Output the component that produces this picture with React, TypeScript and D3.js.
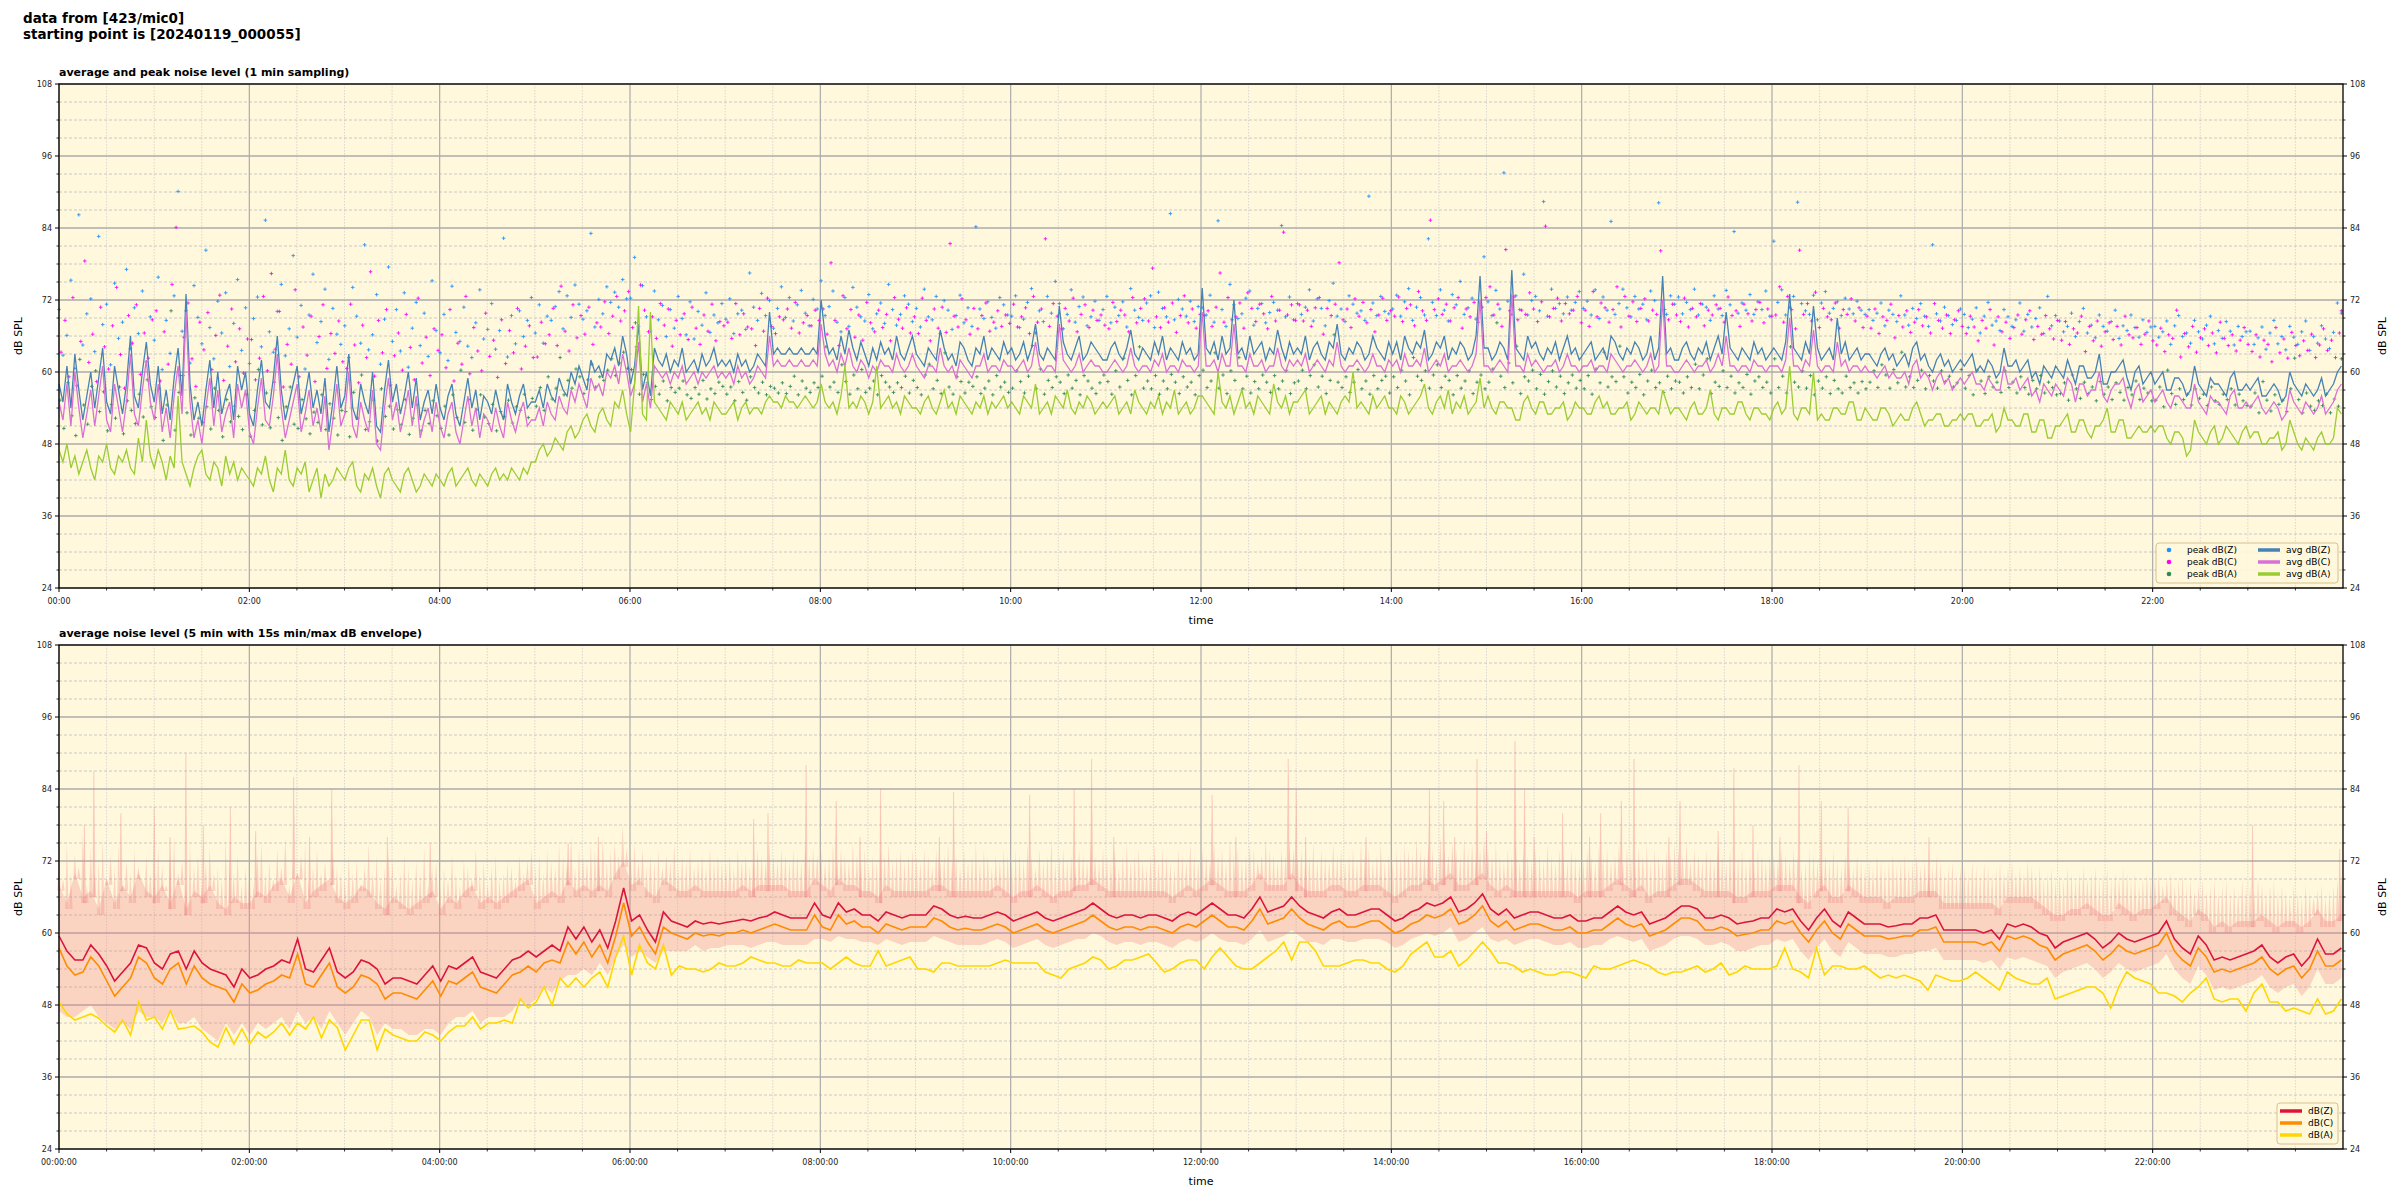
import React from 'react';
import * as d3 from 'd3';

// ---------- top panel data (2.5-minute resolution, 24 values per hour) ----------
const avgZ = [
58,55,61,54,63,57,52,56,60,54,59,64,55,53,61,57,53,58,66,56,54,60,65,58,
55,61,53,57,52,59,64,56,73,58,52,55,51,57,62,54,60,53,56,58,52,61,57,60,
53,51,57,62,55,54,59,66,57,52,55,58,61,53,56,60,54,57,53,59,50,55,61,54,
56,63,54,52,58,55,53,60,51,50,57,62,55,58,53,56,60,54,59,52,55,57,53,58,
54,52,56,58,53,51,55,59,54,57,52,56,55,53,57,54,52,58,55,53,56,58,54,55,
55,57,54,58,56,55,59,57,56,60,58,61,59,57,62,60,61,59,63,62,64,61,66,63,
58,61,68,57,60,56,64,62,61,63,60,62,61,64,60,61,62,60,63,61,62,64,61,62,
61,62,60,63,61,62,60,61,63,62,61,70,63,64,63,63,64,63,63,64,63,63,64,63,
72,66,63,64,62,66,63,67,64,62,65,63,61,64,62,65,63,64,62,66,63,62,64,66,
63,62,61,64,63,62,67,64,62,63,61,65,64,62,61,64,63,66,62,64,63,62,65,63,
64,62,63,65,62,64,68,63,62,64,63,62,71,65,63,62,64,66,62,63,65,64,63,62,
62,64,65,63,62,64,67,63,62,64,63,62,65,63,66,62,64,63,62,65,63,64,62,63,
74,64,63,65,62,66,63,64,72,63,64,62,66,63,64,65,62,64,63,67,64,62,65,63,
64,63,66,62,64,65,63,62,65,64,68,63,62,64,63,65,64,62,63,66,64,63,62,65,
63,65,62,66,64,63,65,64,67,62,63,65,64,66,62,64,63,65,64,62,63,66,76,64,
64,62,63,65,64,62,77,64,63,62,66,64,65,63,62,64,63,65,62,64,66,63,64,62,
63,64,65,62,63,64,62,66,65,63,62,64,63,65,64,62,63,66,62,64,76,63,64,62,
62,64,65,63,62,64,63,65,62,64,66,63,70,64,63,62,64,63,62,65,63,64,62,63,
64,63,62,65,73,64,63,62,65,63,71,64,62,63,64,62,69,63,65,62,63,64,62,63,
63,62,61,63,64,62,63,61,62,63,61,64,65,62,63,61,60,62,63,61,62,60,61,62,
61,62,63,60,61,60,62,61,59,60,64,61,61,62,60,61,62,59,60,58,61,60,59,61,
60,59,62,60,58,61,61,59,59,60,63,58,58,60,60,61,62,59,57,60,61,58,59,60,
58,59,60,57,57,59,59,58,56,57,61,58,57,56,59,58,58,57,56,59,60,57,57,58,
57,58,59,56,56,57,58,57,55,56,60,58,57,56,58,57,56,57,59,56,57,58,60,61];

const avgC = [
55,52,58,51,60,54,49,53,57,51,56,61,52,50,58,54,50,55,63,53,51,57,62,55,
52,58,50,54,49,56,61,53,70,55,49,52,48,54,59,51,57,50,53,55,49,58,54,57,
50,48,54,59,52,51,56,63,54,49,52,55,58,50,53,57,51,54,50,56,47,52,58,51,
53,60,51,49,55,52,50,57,48,47,54,59,52,55,50,53,57,51,56,49,52,54,50,55,
51,49,53,55,50,48,52,56,51,54,49,53,52,50,54,51,49,55,52,50,53,55,51,52,
52,54,51,55,53,52,56,54,53,57,55,58,56,54,59,57,58,56,60,59,61,58,63,60,
56,58,65,55,58,54,61,60,59,60,58,60,59,61,58,59,60,58,60,59,60,61,59,60,
59,60,58,61,59,60,58,59,61,60,59,66,61,62,61,61,62,61,61,62,61,61,62,61,
68,63,61,62,60,63,61,64,61,60,62,61,59,61,60,62,61,61,60,63,61,60,61,63,
61,60,59,61,61,60,64,61,60,61,59,62,61,60,59,61,61,63,60,61,61,60,62,61,
61,60,61,62,60,61,65,61,60,61,61,60,68,62,61,60,61,63,60,61,62,61,61,60,
60,61,62,61,60,61,64,61,60,61,61,60,62,61,63,60,61,61,60,62,61,61,60,61,
70,61,61,62,60,63,61,61,68,61,61,60,63,61,61,62,60,61,61,64,61,60,62,61,
62,61,63,60,61,62,61,60,62,61,65,61,60,61,61,62,61,60,61,63,61,61,60,62,
61,62,60,63,61,61,62,61,64,60,61,62,61,63,60,61,61,62,61,60,61,63,72,61,
61,60,61,62,61,60,73,61,61,60,63,61,62,61,60,61,61,62,60,61,63,61,61,60,
61,61,62,60,61,61,60,63,62,61,60,61,61,62,61,60,61,63,60,61,72,61,61,60,
60,61,62,61,60,61,61,62,60,61,63,61,66,61,61,60,61,61,60,62,61,61,60,61,
61,61,60,62,69,61,61,60,62,61,67,61,60,61,61,60,65,61,62,60,61,61,60,61,
60,60,59,60,61,59,60,59,59,60,58,61,62,59,60,59,57,59,60,58,59,57,58,59,
58,59,60,58,58,57,59,58,57,57,61,58,58,59,57,58,59,56,57,55,58,57,56,58,
57,56,59,58,55,58,58,56,57,57,60,56,55,57,58,58,59,56,54,57,58,55,56,57,
55,56,57,55,54,56,56,55,54,54,58,55,54,53,56,55,55,54,53,56,57,54,54,55,
54,55,56,54,53,54,55,54,52,53,57,55,54,53,55,54,53,54,56,53,54,55,57,58];

const avgA = [
47,45,48,44,46,43,45,47,44,42,46,45,48,44,43,46,45,47,44,43,49,45,52,46,
44,47,45,42,46,44,56,45,43,41,44,46,47,43,42,45,44,41,46,43,45,42,44,43,
42,41,44,43,46,42,40,44,43,47,42,41,44,43,45,40,42,44,39,43,41,42,44,43,
42,44,45,41,40,43,42,44,41,39,43,44,42,41,40,43,44,42,40,41,43,42,41,43,
42,41,43,44,41,42,43,44,42,41,43,42,41,43,44,42,43,42,44,43,42,44,43,45,
45,47,48,46,47,49,48,47,50,51,49,50,52,53,51,50,53,54,52,51,55,54,57,53,
50,58,71,53,52,70,55,54,53,52,55,54,53,55,52,53,54,55,53,54,52,55,54,53,
53,54,55,52,54,55,53,54,54,53,55,56,55,55,54,56,55,55,54,55,56,55,54,55,
58,55,54,55,53,56,61,54,55,54,56,55,53,55,61,54,55,56,54,55,53,56,55,54,
54,53,55,56,54,53,55,57,54,55,53,56,55,54,53,55,54,56,53,55,54,55,56,54,
55,54,53,56,55,54,58,53,54,55,53,56,55,54,57,54,53,55,54,56,55,53,54,55,
54,55,56,53,54,55,53,57,55,54,53,55,54,56,53,55,54,57,53,54,55,53,54,56,
56,55,54,53,60,55,54,56,53,55,57,54,55,53,56,55,54,53,58,55,54,56,53,55,
55,56,57,53,54,55,56,53,55,54,53,55,56,55,60,54,55,54,53,56,54,55,56,54,
54,53,56,55,53,54,55,56,58,54,53,55,56,54,57,53,55,54,56,53,54,55,59,54,
56,54,53,55,55,54,54,52,52,55,56,54,53,55,55,53,53,54,54,55,52,53,55,54,
54,53,53,55,56,54,55,53,53,54,54,55,52,53,55,54,53,54,54,53,57,55,53,54,
54,53,52,54,55,53,53,54,57,53,52,54,54,53,53,55,55,53,52,54,54,53,53,52,
54,55,53,54,61,53,52,54,54,53,60,52,53,52,52,54,54,53,53,55,55,52,52,54,
53,52,52,54,54,53,51,52,53,52,52,54,55,53,51,52,52,53,53,51,51,52,52,53,
52,53,53,51,51,52,52,53,50,51,54,52,52,51,51,53,53,50,50,52,52,49,49,51,
51,52,53,50,50,52,52,50,49,51,51,52,54,50,50,52,52,49,49,50,51,50,50,51,
50,51,51,49,48,50,50,49,46,47,52,50,49,48,50,51,48,49,51,50,49,48,50,51,
49,50,50,48,48,49,49,50,47,48,52,50,48,47,49,48,47,49,50,48,48,49,54,53];

const peakZ = [
70.4,62.8,66.1,75.3,60.6,86.2,64.5,69.7,72.2,63.4,82.6,67.9,71.3,61.2,74.8,65.6,68.3,77.1,63.9,70.7,66.4,73.5,61.7,69.2,
65.3,75.8,60.4,68.6,63.1,72.7,90.1,66.8,70.2,61.5,74.4,69.1,64.7,80.3,67.4,62.2,71.8,66.5,73.2,60.9,68.1,75.4,63.6,70.7,
61.4,68.9,72.5,64.2,85.3,66.7,63.3,70.1,74.6,62.7,67.2,79.4,65.8,71.1,60.5,69.5,76.3,64.9,68.4,73.8,62.1,70.6,66.3,64.6,
67.7,62.4,74.1,69.3,64.8,81.2,63.7,66.2,72.9,61.3,68.8,77.5,65.1,70.4,63.5,73.2,60.8,67.3,71.6,64.4,69.8,62.6,75.2,66.9,
63.2,69.6,61.9,74.3,66.6,65.1,70.8,64.3,62.4,68.2,73.7,65.5,67.1,71.4,63.8,66.9,82.3,62.5,69.4,64.7,70.2,65.9,68.6,72.4,
66.5,71.2,64.8,69.3,68.6,70.9,73.4,67.2,72.7,69.1,74.5,71.3,68.8,70.2,83.1,67.5,72.1,69.7,74.2,71.6,73.3,70.8,75.4,72.2,
72.3,79.1,67.6,74.4,69.2,66.8,73.5,68.7,71.1,65.9,70.4,67.3,72.6,68.9,66.2,71.7,65.5,70.1,67.8,73.2,66.6,69.5,68.2,71.4,
68.8,72.2,66.4,69.7,70.3,67.1,76.5,70.8,68.6,73.1,69.4,71.9,67.3,70.6,74.2,69.1,72.4,68.5,71.2,73.6,69.8,67.7,72.1,70.5,
75.2,69.4,70.9,73.5,68.3,66.7,72.4,67.6,74.1,70.8,69.2,68.5,72.9,67.2,69.7,71.5,68.1,74.6,70.4,67.8,69.6,72.7,71.3,68.4,
70.6,67.5,73.8,69.2,68.7,72.6,66.4,71.9,70.3,67.1,69.4,72.8,68.2,70.7,67.6,84.2,70.5,68.9,71.7,69.1,67.3,72.4,71.2,69.5,
69.3,72.7,67.4,68.8,71.6,73.9,66.5,70.2,68.4,72.6,69.8,75.1,71.4,67.2,69.6,73.7,68.3,70.9,72.5,67.7,69.2,71.8,68.6,70.4,
72.6,68.2,70.8,69.4,71.7,67.5,73.9,70.3,69.1,68.6,71.5,72.7,67.4,73.3,70.6,69.2,86.4,68.7,72.1,70.5,69.3,71.8,68.4,70.9,
70.7,69.5,72.8,68.3,85.2,70.4,67.6,74.6,71.2,68.9,69.7,72.3,73.5,67.8,70.6,71.4,68.2,69.9,71.6,70.3,84.4,69.2,72.5,68.7,
71.4,69.6,70.8,73.7,68.5,72.2,70.6,67.7,71.9,74.8,69.3,70.5,68.4,72.7,71.3,69.8,70.2,68.6,89.3,71.5,69.4,72.6,70.1,69.7,
70.5,72.8,69.3,71.7,73.9,68.6,70.8,72.4,69.5,82.2,71.6,69.4,73.7,70.3,68.5,72.9,71.2,75.1,69.6,70.7,72.3,68.8,71.5,79.2,
71.7,69.4,73.6,70.5,93.2,71.8,69.6,72.7,70.4,76.3,69.5,71.9,72.6,70.2,88.4,69.3,73.8,70.6,71.4,69.7,72.5,70.3,71.6,73.4,
70.6,71.8,69.5,73.7,68.9,72.5,70.3,85.1,69.6,71.4,73.8,70.7,69.2,72.6,70.5,71.3,68.7,73.5,71.9,88.2,70.4,69.6,72.7,71.3,
72.5,69.7,71.6,70.4,73.8,69.5,71.3,70.8,68.6,72.7,70.5,69.4,73.6,71.2,83.4,69.8,71.5,70.3,72.9,69.6,71.7,70.4,73.5,69.3,
81.8,71.6,73.7,69.5,70.8,72.6,88.3,71.4,70.2,69.6,72.8,68.7,71.5,73.4,69.8,70.6,71.7,69.4,72.3,70.5,69.7,71.8,70.3,69.6,
70.4,68.6,69.8,71.5,67.7,70.3,69.6,68.4,72.7,69.5,67.8,70.6,68.9,71.4,69.3,67.6,81.2,69.7,68.5,70.8,69.4,67.9,68.6,70.5,
69.6,67.4,68.8,70.7,66.5,69.3,71.6,67.8,68.5,66.9,70.4,69.2,67.6,68.7,71.5,66.8,69.6,67.5,68.9,70.7,66.4,72.6,67.7,69.4,
68.5,66.7,67.6,69.8,65.9,68.4,70.6,66.5,67.8,65.7,69.5,67.6,66.8,68.4,70.3,65.6,67.7,66.9,69.5,67.4,65.8,68.7,66.6,67.5,
67.6,65.8,66.7,68.5,64.6,67.7,69.4,65.9,66.5,64.8,68.6,66.7,65.5,67.8,69.3,64.7,66.9,65.6,68.4,66.8,64.5,67.6,65.9,66.7,
66.8,64.6,65.7,67.5,63.8,66.5,68.6,64.7,65.9,63.7,67.6,65.8,64.6,66.7,68.5,63.6,65.9,64.8,67.7,65.5,63.9,66.6,71.5,69.8];

const peakC = [
63.3,68.6,59.2,72.4,57.7,65.1,78.5,61.6,66.3,58.4,70.8,64.2,60.5,67.7,74.1,62.9,57.3,69.4,64.8,71.2,59.6,66.5,62.3,68.7,
70.2,58.5,66.7,61.3,74.6,84.1,59.4,65.8,71.5,62.2,57.6,68.3,63.7,69.9,60.4,66.1,72.8,58.6,64.3,70.5,61.7,67.2,59.8,65.5,
65.4,58.7,62.3,72.6,60.2,76.4,63.8,70.1,57.5,64.6,61.3,73.7,59.2,67.5,62.8,69.3,58.4,65.9,71.2,60.6,66.4,63.1,68.5,61.7,
60.6,71.3,64.5,58.2,67.8,62.4,76.7,59.3,68.6,63.2,70.4,57.8,62.7,66.5,60.3,69.6,64.1,58.7,72.3,61.5,65.8,59.4,67.2,63.6,
66.2,60.7,70.4,58.5,64.8,61.3,72.6,59.7,67.4,63.5,60.2,69.8,62.6,65.3,59.1,68.7,61.4,66.9,63.2,70.6,60.5,64.3,67.7,62.4,
62.5,68.3,64.7,66.2,70.6,64.4,74.3,66.8,63.5,71.2,65.7,69.4,66.3,70.8,64.6,68.2,67.5,71.7,66.4,69.3,72.6,68.5,70.2,73.4,
67.4,64.2,74.5,70.3,66.7,69.2,65.6,71.4,67.8,70.5,64.3,68.6,66.2,69.7,65.4,70.8,67.3,64.6,69.5,66.8,71.3,65.2,68.4,67.7,
68.3,65.6,71.4,66.2,69.7,67.5,67.2,64.4,70.6,66.8,72.3,67.6,66.4,69.2,68.7,70.5,67.3,71.6,66.5,68.2,69.4,67.7,70.3,68.6,
70.5,66.3,78.2,68.6,64.4,72.7,67.2,70.4,65.8,69.5,65.3,71.6,68.2,66.7,70.3,67.4,69.6,65.2,72.4,68.8,67.3,70.7,66.5,69.2,
66.4,72.3,68.6,65.2,70.5,67.3,70.8,66.6,81.4,69.3,67.5,72.2,68.7,66.3,70.6,67.2,69.4,71.5,66.8,68.3,70.2,67.6,69.5,68.1,
71.3,67.5,69.2,70.7,66.4,72.6,68.3,70.5,82.2,67.6,71.4,69.3,67.2,70.6,68.5,72.3,66.7,69.6,71.2,67.4,70.3,68.6,69.5,67.8,
67.2,71.6,68.4,70.3,69.5,66.7,72.4,68.2,70.6,72.2,68.5,77.3,69.2,67.4,70.7,68.3,71.5,66.6,69.4,72.7,68.2,70.5,67.3,69.6,
69.4,70.2,67.6,70.8,76.5,68.3,72.4,68.7,69.2,71.5,67.3,73.2,70.6,68.4,71.3,69.7,67.2,72.6,68.5,70.3,83.3,69.5,71.2,68.6,
71.2,68.5,70.3,67.6,70.7,72.4,66.3,70.6,69.4,71.3,78.2,68.7,70.5,67.4,72.2,69.3,71.6,68.2,70.4,66.7,69.5,72.3,68.6,70.2,
69.3,72.5,68.4,70.6,71.2,67.7,73.4,70.2,68.6,85.3,70.4,72.2,69.6,71.3,68.5,70.7,72.4,67.3,70.5,69.2,71.6,68.3,70.8,72.4,
74.2,69.5,71.3,67.6,80.4,70.2,72.5,68.7,70.3,69.6,73.2,70.5,68.4,71.7,84.3,69.2,70.6,72.3,68.5,71.4,69.7,70.3,72.6,68.2,
70.3,67.6,73.4,69.2,71.5,70.7,68.3,70.4,74.2,67.5,72.6,69.3,71.7,68.4,70.6,72.2,68.5,70.3,69.6,80.2,70.4,68.7,71.3,69.5,
68.4,72.3,67.5,70.6,69.2,71.4,67.7,70.3,69.5,71.2,70.6,68.3,72.5,69.4,70.2,67.6,71.3,69.7,68.5,70.4,71.6,68.2,70.5,69.3,
69.5,74.2,68.3,72.6,70.4,67.2,80.3,69.6,71.4,68.5,73.3,67.4,70.6,69.2,68.7,71.5,67.3,70.4,69.6,72.2,68.5,70.7,67.4,69.3,
67.3,70.5,66.4,69.2,68.6,71.3,65.7,69.4,67.5,70.2,66.6,68.3,70.4,67.7,69.2,66.5,71.4,68.6,67.3,69.5,66.4,68.7,70.2,67.6,
66.4,69.3,67.5,65.2,68.6,67.3,70.4,64.5,69.2,66.7,68.3,65.6,67.4,69.5,66.3,68.7,70.2,65.4,67.6,66.3,69.4,67.2,65.5,68.6,
65.3,68.4,64.6,67.2,66.5,69.3,63.4,67.6,65.2,68.5,64.3,66.7,68.2,65.4,67.6,64.5,69.3,66.2,65.7,67.4,64.6,66.3,68.5,65.2,
64.5,67.3,63.4,66.2,65.6,70.3,62.5,66.4,64.2,67.6,63.3,65.7,67.2,64.4,66.5,63.2,68.3,65.6,64.4,66.2,63.5,65.3,67.4,64.6,
63.4,66.2,62.5,65.3,64.6,61.7,67.4,63.2,65.5,62.3,66.6,64.4,62.7,65.2,63.6,66.3,62.4,64.5,67.2,63.6,65.3,62.4,66.5,70.2];

const peakA = [
55.3,50.6,58.2,52.7,49.4,62.1,54.5,51.3,57.6,60.2,53.4,56.7,50.2,54.6,52.3,57.5,49.7,55.2,53.6,51.4,56.3,52.5,58.7,54.2,
52.4,57.3,48.6,54.5,70.2,50.3,56.6,59.4,53.2,49.5,55.7,52.3,51.6,54.2,50.5,57.3,53.6,49.2,55.4,51.7,54.3,52.6,50.4,56.2,
49.3,53.6,60.4,51.2,56.5,50.7,58.3,52.4,48.6,54.2,57.5,51.3,50.6,55.4,52.2,49.7,53.3,51.6,56.2,50.4,54.7,52.3,49.5,53.6,
53.4,49.2,56.6,52.3,59.5,50.4,51.7,55.3,48.5,57.2,52.6,54.3,50.5,53.7,51.2,55.4,49.6,52.3,54.5,50.2,53.6,51.4,55.2,52.7,
50.6,54.3,49.5,56.2,52.4,60.3,51.6,55.4,50.3,53.7,56.2,52.5,51.4,54.6,50.2,53.4,52.6,55.3,51.5,54.2,53.6,56.3,52.4,55.6,
54.3,57.4,53.6,59.2,55.5,57.3,62.4,56.2,58.6,57.3,60.5,59.2,56.4,58.7,61.3,57.5,59.2,58.6,60.3,62.2,59.4,61.5,63.3,60.6,
60.4,68.2,56.3,59.6,58.2,55.4,57.6,56.3,58.5,55.2,57.4,56.6,57.3,58.5,56.2,55.6,57.4,56.3,58.6,55.5,57.2,56.4,58.3,57.6,
56.3,57.5,55.2,58.4,56.6,55.3,59.2,57.4,56.5,58.3,56.2,57.6,57.3,56.5,58.2,56.4,57.6,59.3,56.2,58.5,57.3,56.6,58.2,57.4,
59.3,64.2,57.5,58.3,56.6,61.2,58.4,56.3,59.5,57.2,60.4,56.6,57.3,58.5,56.2,59.4,58.3,57.5,56.6,58.2,57.4,59.3,56.5,58.6,
57.4,56.2,59.5,61.3,57.2,58.6,56.4,63.2,57.5,56.3,59.2,58.4,56.5,58.3,57.6,59.2,56.4,57.3,58.5,56.2,59.4,57.5,58.3,56.6,
57.3,60.2,58.4,56.5,59.3,64.4,57.2,60.5,56.3,58.6,57.4,59.2,58.3,56.4,59.5,57.3,58.6,56.2,59.4,58.5,57.3,56.4,58.2,59.5,
58.4,56.3,60.2,57.5,62.3,58.6,56.2,59.4,64.2,57.3,58.5,57.2,59.4,56.3,58.5,57.2,59.6,58.3,56.4,59.2,57.5,58.3,56.2,59.4,
60.3,57.4,58.5,63.2,57.3,59.5,56.4,60.2,58.6,62.4,57.2,59.3,56.5,58.4,57.2,59.5,58.3,56.6,59.4,57.2,58.5,60.3,56.4,58.2,
58.5,60.3,57.2,59.4,61.2,57.5,59.3,56.4,58.6,66.2,58.3,57.4,59.2,56.6,58.3,60.4,57.2,58.5,56.3,59.4,57.2,58.6,59.3,56.5,
59.2,57.4,60.3,58.5,56.2,62.4,59.3,58.6,60.2,57.3,59.5,61.2,57.4,59.3,58.6,56.2,59.4,57.3,58.5,60.2,56.4,58.3,59.5,57.2,
58.3,60.5,68.2,59.3,57.4,61.5,58.2,64.3,56.4,59.2,58.5,60.3,57.2,59.6,56.3,58.4,60.2,57.5,59.3,56.4,58.2,59.5,57.3,58.6,
57.2,59.4,56.3,60.5,58.2,63.3,57.5,59.2,58.4,64.3,59.2,56.5,58.3,57.4,59.6,56.2,58.5,60.3,57.4,58.2,56.6,59.3,57.2,58.5,
58.3,56.5,59.2,57.4,61.3,57.2,59.5,62.2,56.4,58.3,57.6,60.2,57.4,59.3,56.5,58.2,57.4,59.6,56.3,58.5,59.2,57.4,58.3,56.5,
62.2,57.4,59.3,56.5,64.2,58.3,57.5,60.2,57.3,59.4,56.2,58.5,57.3,59.2,56.4,58.6,57.2,56.5,59.3,57.4,58.2,56.5,58.4,57.2,
58.3,60.2,57.4,61.2,59.5,57.3,60.4,58.2,63.3,57.5,59.2,57.4,58.6,60.3,57.2,59.4,58.5,57.3,60.2,58.4,59.3,57.5,58.2,60.4,
57.3,59.4,56.2,60.3,58.5,56.4,59.2,57.5,58.3,56.6,60.2,57.4,58.3,56.5,59.2,57.4,56.3,58.6,57.2,59.4,56.5,58.3,57.4,56.2,
56.4,58.2,55.3,59.5,57.2,55.6,58.3,56.4,57.5,55.2,58.4,56.3,57.5,55.4,58.2,56.6,55.3,57.4,56.2,58.5,55.4,57.3,56.5,55.2,
55.3,57.5,54.2,60.3,56.4,54.6,57.2,55.4,56.3,54.5,57.2,55.6,56.3,54.4,57.5,55.2,54.6,56.3,55.4,57.2,54.5,56.3,55.2,54.4,
54.3,56.5,53.2,58.4,55.3,53.5,56.2,54.6,55.3,53.4,57.2,62.3,55.4,53.2,56.5,54.3,53.6,55.2,54.4,56.3,53.2,55.5,54.3,62.2];

// ---------- bottom panel data (5-minute resolution, 12 values per hour) ----------
const dbZ = [
59.5,57,55.5,55.5,58,56.5,54.5,52,53.5,55,58,57.5,
55,54,56.5,57,54,57,55,54,53.5,53,51,54,
52.5,53,54,54.5,55.5,55,59,54,53.5,55.5,57.5,53.5,
52.5,53.5,55.5,55,54,51.5,52.5,52.5,52,51.5,53,54.5,
52,54.5,54,55,56,53.5,53,52.5,54,55.5,56,57,
56,57,58,57,61,59,61,58.5,60.5,57.5,62,67.5,
62,63,60.5,58.5,63.5,62,61.5,61,62,61.5,61.8,61.5,
61.8,62,62.3,62,62.5,62.8,63.5,63,62.5,62.5,62.5,65,
63,62.5,65,63.5,64,63,63,62,63.5,63,62.5,63,
63,63,64.5,64,63,62.5,62.8,62.5,62.5,63,63.5,63,
62,62.5,63,63.5,62.5,62,62.5,63,63.5,64,65,64,
63,62.5,63,63,62.5,63,63,62.5,62,63,63.5,63,
64,65,64,63,63,62.5,64,66,63.5,64,64.5,66,
64.5,63.5,63,62.5,63.5,64,63,63,63.5,64,64,63,
62,62.5,63.5,64,65,64.5,65,66,63.5,64,65,66.5,
64,63,64,62.5,63,63.5,63.5,63,62.5,62.5,63,62,
62,62.5,62.5,63.5,64.5,63.5,63,63.5,61.5,62,62.5,63.5,
64.5,64.5,64,62.5,62.5,63,62.5,61.5,61.8,62,62.5,62.5,
64,63.5,64,62,60.5,62.5,64,62,61,63.5,62.5,61.5,
61.5,61.5,61,61.2,61.5,61.5,62.5,62.5,63,60.5,60.5,60.5,
60.5,60.5,60,60.5,59,61.5,61,61.5,61,60,59.5,57.5,
58.5,59,59.5,60,59,57.5,58.5,60,59,58.5,59,59.5,
60,62,59,57.5,56.5,59.5,58,55.5,56,55.5,56,56.5,
57,58,56,55,56,56.5,54.5,56,59,56.5,56.5,57.5];

const dbC = [
57.5,54.5,53,53.5,56,54.5,52,49.5,51,52.5,56,55,
52.5,51.5,54,55,51.5,54.5,52.5,51.5,51,50.5,48.5,51.5,
50,50.5,51.5,52,53,52.5,56.5,51.5,51,53,55,51,
50,51,53,52.5,51.5,49,50,50,49.5,49,50.5,52,
49.5,52,51.5,52.5,53.5,51,50.5,50,51.5,53,53.5,54.5,
53.5,55,55.5,55,58.5,56.5,58.5,56,58,55,59.5,65,
59.5,61,58.5,56.5,61,60,59.5,59,60,59.5,59.8,59.5,
60,60,60.5,60,60.5,61,61.5,61,60.5,60.5,60.5,63,
61,60.5,63,61.5,62,61,61,60,61.5,61,60.5,61,
61,61,62.5,62,61,60.5,60.8,60.5,60.5,61,61.5,61,
60,60.5,61,61.5,60.5,60,60.5,61,61.5,62,63,62,
61,60.5,61,61,60.5,61,61,60.5,60,61,61.5,61,
62,63,62,61,61,60.5,62,64,61.5,62,62.5,64,
62.5,61.5,61,60.5,61.5,62,61,61,61.5,62,62,61,
60,60.5,61.5,62,63,62.5,63,64,61.5,62,63,64.5,
62,61,62,60.5,61,61.5,61.5,61,60.5,60.5,61,60,
60,60.5,60.5,61.5,62.5,61.5,61,61.5,59.5,60,60.5,61.5,
62.5,62.5,62,60.5,60.5,61,60.5,59.5,59.8,60,60.5,60.5,
62,61.5,62,60,58.5,60.5,62,60,59,61.5,60.5,59.5,
59.5,59.5,59,59.2,59.5,59.5,60.5,60.5,61,58.5,58.5,58.5,
58.5,58.5,58,58.5,57,59.5,59,59.5,59,58,57.5,55.5,
56.5,57,57.5,58,57,55.5,56.5,58,57,56.5,57,57.5,
58,60,57,55.5,54.5,57.5,56,53.5,54,53.5,54,54.5,
55,56,54,53,54,54.5,52.5,54,57,54.5,54.5,55.5];

const dbA = [
48.5,46.5,45.5,46,46.5,45.8,44.5,43.5,45.5,43,48.5,45.5,
46,44,47,44,44.2,44.5,43.5,41.8,41,44.2,41.5,44,
41.5,43.5,42.5,43.5,45,43,45,44,46,42.5,45.5,44.2,
40.5,43,45.5,45.5,40.5,44,43,42.5,42,42,43.5,43,
42,43.5,44.5,44.5,46,44,45,45,45.5,45,49,47.5,
48.5,51,48,52.5,51,52.5,51,52.5,53.5,51,56,59.5,
53,58,55,54,58,53,54.5,54,54,53.5,54,55,
54.5,54.5,55,56,55.5,55,55,54.5,54.5,55.5,55,55,
55,54,55,56,55,54.5,54.5,57,54.5,55,55.5,56,
54,54,53.5,55,55,54.5,54.5,54.5,54.5,54.5,55,55.5,
55,55,55,55,53.5,53,52.5,54,54.5,55,56,55.5,
54,54.5,55.5,55.5,56,56.5,55,53.5,54,55,55.5,55.5,
54,56,57.5,56,54.5,54,54,55,56,57,58.5,55.5,
58.5,58.5,57,54.5,54.5,54.5,55,55.5,55.5,55,55,54,
53.5,54.5,56.5,57.5,58.5,56,56,57,54.5,55.5,57,58.5,
57,55,55,54.5,53.5,54,53.5,53,53,53.5,53.5,53,
52.5,54.5,54,54,54.5,55,55.5,55,54.5,53.5,53,53.5,
53.5,54,54.5,53.5,54,55,53,53.5,54.5,54,54,54,
54.5,57.5,54,53.5,52.5,57.5,53,54.5,54.5,54,54,54.5,
53.5,52.5,53,52.5,53,52.5,52,50.5,53,52.5,52,52,
52.5,53.5,52.5,51.5,50.5,53.5,52.5,52,51.5,51.5,52.5,49,
49.5,50,50.5,51,51,50,47.5,51,53.5,52.5,52,51.5,
50,50,49.5,48.5,50,51,52.5,49,48.5,49,49,47,
50,51.5,48.5,48.5,47,47.5,47,46.5,49,46.5,47,49];

// 15 s envelope: dense upper edge and lower edge (5-minute resolution)
const envHi = [
68,65,70,66,67,64,69,65,68,66,70,67,
66,68,65,69,64,67,66,68,65,64,66,65,
65,67,66,68,69,66,70,65,67,68,69,66,
65,66,68,67,65,64,66,65,64,65,66,67,
64,66,65,67,68,65,66,65,66,67,68,69,
65,66,67,66,69,67,68,67,68,67,70,72,
68,69,67,66,69,68,67,67,68,67,67,67,
67,67,68,67,68,68,68,68,67,67,67,69,
68,67,69,68,68,67,67,66,68,67,67,67,
67,67,68,68,67,67,67,67,67,67,68,67,
66,67,67,68,67,66,67,67,68,68,69,68,
67,67,67,67,67,67,67,67,66,67,68,67,
68,69,68,67,67,67,68,70,68,68,68,70,
68,67,67,67,68,68,67,67,68,68,68,67,
66,67,68,68,69,68,69,70,68,68,69,70,
68,67,68,67,67,67,67,67,67,67,67,66,
67,67,67,68,69,68,67,68,66,67,67,68,
69,69,68,67,67,67,67,66,66,67,67,67,
68,68,68,66,65,67,68,66,66,68,67,66,
66,66,65,66,66,66,67,67,67,65,65,65,
65,65,65,65,64,66,66,66,66,65,64,63,
63,64,64,65,64,63,63,65,64,63,64,64,
65,66,64,63,62,64,63,61,62,61,62,62,
62,63,62,61,62,62,61,62,64,62,62,63];

const envMin = [
47,46,46,47,48,46,45,44,45,44,47,46,
46,45,47,45,45,46,44,43,42,45,43,45,
43,45,44,45,46,44,47,45,46,44,47,45,
43,45,47,46,43,45,44,44,43,43,44,44,
43,45,46,46,47,45,46,46,46,47,49,48,
49,51,50,52,53,53,54,53,55,53,56,58,
56,57,56,55,57,57,57,57,58,57,57.5,57.5,
58,58,58,57.5,58,58.5,58.5,58,58,58,58,59,
59,58.5,59.5,59,59,58.5,58.5,58,59,58.5,58,58.5,
58.5,58.5,59.5,59,58.5,58,58,58,58,58.5,59,58.5,
57.5,58,58.5,59,58,57.5,58,58.5,59,59,60,59.5,
58.5,58,58.5,58.5,58,58.5,58.5,58,57.5,58.5,59,58.5,
59,60,59,58.5,58.5,58,59,60.5,58.5,59,59.5,60.5,
59.5,58.5,58.5,58,59,59,58.5,58.5,59,59,59,58.5,
57.5,58,59,59.5,60,59.5,60,61,58.5,59,60,61,
59,58.5,59,58,58.5,59,59,58.5,58,58,58.5,57.5,
57.5,58,58,59,59.5,59,58.5,59,57,57.5,58,59,
59.5,59.5,59,58,58,58.5,58,57,57,57.5,58,58,
59,58.5,59,57,55.5,57.5,59,57,56,58.5,57.5,56.5,
56.5,56.5,56,56,56.5,56.5,57,57,57.5,55.5,55.5,55.5,
55.5,55.5,55,55.5,54,56,55.5,56,55.5,55,54.5,52.5,
53.5,54,54.5,55,54,52.5,53.5,55,54,53.5,54,54.5,
55,56.5,54,52.5,51.5,54.5,53,50.5,51,50.5,51,51.5,
52,53,51,50,51,51.5,49.5,51,54,51.5,51.5,52.5];

// highest 15 s maximum within each 2.5-minute slot (24 per hour)
const envTop = [
72,69,75,70,73,71,77,68,74,70,72,76,69,73,71,75,68,72,70,74,71,69,73,70,
70,74,71,68,73,76,70,72,69,75,71,73,68,72,74,70,71,69,76,72,70,73,68,71,
71,68,73,75,70,72,69,74,71,76,68,72,70,73,75,69,71,74,70,72,68,73,71,70,
69,73,70,72,68,71,75,70,73,69,71,74,72,68,70,73,71,69,72,70,74,68,71,72,
68,71,69,73,70,68,72,71,69,74,70,72,68,71,73,69,70,72,71,69,73,70,72,74,
71,73,70,74,72,71,75,73,72,76,71,74,73,72,75,74,73,76,72,74,75,73,78,74,
73,75,72,74,71,73,72,74,71,73,72,75,71,73,72,74,71,72,73,71,74,72,73,72,
72,73,71,74,72,73,71,72,74,73,72,75,73,72,74,73,72,74,73,72,75,73,74,73,
74,72,73,75,72,74,73,72,75,73,72,74,71,73,72,74,73,75,72,73,74,72,73,74,
73,72,74,73,71,74,72,73,75,72,73,71,74,72,73,75,72,74,73,71,73,72,74,73,
72,74,73,72,75,73,71,74,72,73,76,72,73,74,72,73,71,74,73,72,75,73,72,74,
73,72,74,71,73,75,72,73,74,72,71,73,75,72,74,73,72,71,74,73,72,75,73,72,
74,73,72,75,73,74,72,76,73,74,72,73,75,74,72,73,76,74,73,72,74,73,75,74,
73,74,72,73,75,72,74,73,72,75,73,74,72,73,74,72,75,73,74,72,73,75,72,73,
72,74,73,75,74,73,76,74,73,75,74,72,76,74,73,75,74,73,76,74,75,73,74,76,
74,73,75,73,72,74,73,75,72,74,73,72,74,73,72,75,73,72,74,73,72,74,73,72,
72,74,73,72,75,73,74,72,73,75,72,74,73,72,74,73,75,72,74,73,72,74,73,75,
74,73,75,72,74,73,72,74,73,72,75,73,72,74,72,73,74,72,73,72,74,73,72,73,
73,72,74,73,72,74,73,71,72,74,73,72,71,73,72,74,72,71,73,72,71,73,72,71,
72,71,73,72,71,72,73,71,72,73,71,72,73,71,72,70,71,73,72,70,71,72,70,71,
71,70,72,71,70,72,71,70,71,72,70,71,72,70,71,70,72,71,70,71,69,70,71,69,
70,69,71,70,69,70,71,69,70,71,69,70,71,69,70,69,71,70,69,70,68,69,70,69,
69,70,68,69,70,68,69,70,68,69,67,68,69,67,68,69,67,68,69,67,68,67,69,68,
68,67,69,68,67,68,69,67,68,67,66,68,67,66,68,67,66,67,68,66,67,68,69,70];

// tallest short maxima: [minute, dB]
const envSpikes: [number, number][] = [
[16,78],[22,87],[39,80],[60,81],[70,76],[80,90],[91,78],[108,81],[124,77],[148,86],[158,76],[172,84],
[207,76],[234,75],[321,75],[340,76],[438,79],[447,80],[471,88],[490,82],[505,76],[518,84],[555,76],[564,83.5],
[612,83],[640,84],[651,89],[665,76],[727,83],[742,76],[775,89],[780,84],[786,76],[824,76],[864,84],[873,82],
[880,76],[894,89],[900,77],[918,92],[924,84],[930,76],[948,80],[965,76],[972,80],[985,82],[993,89],[1015,76],
[1022,82],[1046,77],[1056,87.5],[1068,78],[1085,76],[1097,88],[1111,82],[1128,81],[1179,76],[1383,78],[1438,74]];

const topLegend = ['peak dB(Z)', 'peak dB(C)', 'peak dB(A)', 'avg dB(Z)', 'avg dB(C)', 'avg dB(A)'];
const botLegend = ['dB(Z)', 'dB(C)', 'dB(A)'];
const yTicks = [24, 36, 48, 60, 72, 84, 96, 108];

// ---------- layout ----------
const X0 = 59, X1 = 2343;
const FONT = 'DejaVu Sans, sans-serif';
const pad2 = (n: number) => (n < 10 ? '0' + n : '' + n);
const tAt = (i: number, n: number) => (i * 1439) / (n - 1);

type PanelProps = { y0: number; y1: number; title: string; longLabels: boolean; children?: React.ReactNode };

function Panel({ y0, y1, title, longLabels, children }: PanelProps) {
  const x = d3.scaleLinear().domain([0, 1440]).range([X0, X1]);
  const y = d3.scaleLinear().domain([24, 108]).range([y1, y0]);
  const xMajor = d3.range(0, 1440, 120);
  const xMinor = d3.range(30, 1440, 30).filter((m) => m % 120 !== 0);
  const yMinor = d3.range(24, 109, 3).filter((v) => (v - 24) % 12 !== 0);
  return (
    <g>
      <rect x={X0} y={y0} width={X1 - X0} height={y1 - y0} fill="#FFF8DC" />
      {xMinor.map((m) => (
        <line key={'xm' + m} x1={x(m)} x2={x(m)} y1={y0} y2={y1} stroke="#cfcfcf" strokeWidth={0.8} strokeDasharray="1.5,1.5" />
      ))}
      {yMinor.map((v) => (
        <line key={'ym' + v} x1={X0} x2={X1} y1={y(v)} y2={y(v)} stroke="#bdbdbd" strokeWidth={0.8} strokeDasharray="3,2" />
      ))}
      {xMajor.map((m) => (
        <line key={'xM' + m} x1={x(m)} x2={x(m)} y1={y0} y2={y1} stroke="#ababab" strokeWidth={1.2} />
      ))}
      {yTicks.map((v) => (
        <line key={'yM' + v} x1={X0} x2={X1} y1={y(v)} y2={y(v)} stroke="#ababab" strokeWidth={1.4} />
      ))}
      {children}
      <rect x={X0} y={y0} width={X1 - X0} height={y1 - y0} fill="none" stroke="#000" strokeWidth={1.3} />
      {yTicks.map((v) => (
        <g key={'yt' + v}>
          <line x1={X0 - 4} x2={X0} y1={y(v)} y2={y(v)} stroke="#000" strokeWidth={1} />
          <line x1={X1} x2={X1 + 4} y1={y(v)} y2={y(v)} stroke="#000" strokeWidth={1} />
          <text x={X0 - 7} y={y(v) + 3} fontSize={8} textAnchor="end" fontFamily={FONT} fill="#222">{v}</text>
          <text x={X1 + 7} y={y(v) + 3} fontSize={8} textAnchor="start" fontFamily={FONT} fill="#222">{v}</text>
        </g>
      ))}
      {yMinor.map((v) => (
        <g key={'ymt' + v}>
          <line x1={X0 - 2.5} x2={X0} y1={y(v)} y2={y(v)} stroke="#000" strokeWidth={0.8} />
          <line x1={X1} x2={X1 + 2.5} y1={y(v)} y2={y(v)} stroke="#000" strokeWidth={0.8} />
        </g>
      ))}
      {xMajor.map((m) => (
        <g key={'xt' + m}>
          <line x1={x(m)} x2={x(m)} y1={y1} y2={y1 + 4} stroke="#000" strokeWidth={1} />
          <text x={x(m)} y={y1 + 16} fontSize={8} textAnchor="middle" fontFamily={FONT} fill="#222">
            {pad2(m / 60) + ':00' + (longLabels ? ':00' : '')}
          </text>
        </g>
      ))}
      {xMinor.map((m) => (
        <line key={'xmt' + m} x1={x(m)} x2={x(m)} y1={y1} y2={y1 + 2.5} stroke="#000" strokeWidth={0.8} />
      ))}
      <text x={X0} y={y0 - 8} fontSize={11} fontWeight="bold" fontFamily={FONT}>{title}</text>
      <text x={(X0 + X1) / 2} y={y1 + 36} fontSize={11} textAnchor="middle" fontFamily={FONT}>time</text>
      <text transform={`translate(22,${(y0 + y1) / 2}) rotate(-90)`} fontSize={11} textAnchor="middle" fontFamily={FONT}>dB SPL</text>
      <text transform={`translate(2386,${(y0 + y1) / 2}) rotate(-90)`} fontSize={11} textAnchor="middle" fontFamily={FONT}>dB SPL</text>
    </g>
  );
}

export default function App() {
  const x = d3.scaleLinear().domain([0, 1440]).range([X0, X1]);
  const yT = d3.scaleLinear().domain([24, 108]).range([588, 84]);
  const yB = d3.scaleLinear().domain([24, 108]).range([1149, 645]);

  const lineT = (arr: number[]) =>
    d3.line<number>().x((_, i) => x(tAt(i, arr.length))).y((d) => yT(d))(arr) || '';
  const lineB = (arr: number[]) =>
    d3.line<number>().x((_, i) => x(tAt(i, arr.length))).y((d) => yB(d))(arr) || '';
  const envArea =
    d3
      .area<number>()
      .x((_, i) => x(tAt(i, envHi.length)))
      .y0((_, i) => yB(envMin[i]))
      .y1((d) => yB(d))(envHi) || '';

  const hiAt = (m: number) => envHi[Math.min(envHi.length - 1, Math.max(0, Math.round((m * (envHi.length - 1)) / 1439)))];
  const spike = (m: number, v: number, hw: number) => {
    const base = yB(hiAt(m) - 1);
    const px = x(m);
    return `M${(px - hw).toFixed(1)},${base.toFixed(1)}L${px.toFixed(1)},${yB(v).toFixed(1)}L${(px + hw).toFixed(1)},${base.toFixed(1)}Z`;
  };
  const texturePath = envTop.map((v, i) => spike(tAt(i, envTop.length), v, 1.7)).join('');
  const spikePath = envSpikes.map(([m, v]) => spike(m, v, 1.2)).join('');

  const plusPath = (vals: number[], off: number) =>
    vals
      .map((v, i) => {
        const cx = x(Math.min(1439, tAt(i, vals.length) + off));
        const cy = yT(v);
        return `M${(cx - 1.8).toFixed(1)},${cy.toFixed(1)}h3.6M${cx.toFixed(1)},${(cy - 1.8).toFixed(1)}v3.6`;
      })
      .join('');

  const topColors = ['#1E90FF', '#FF00FF', '#2E8B57', '#4682B4', '#DA70D6', '#9ACD32'];
  const botColors = ['#DC143C', '#FF8C00', '#FFD700'];

  return (
    <div style={{ position: 'absolute', left: 0, top: 0 }}>
      <svg width={2400} height={1200} viewBox="0 0 2400 1200" style={{ display: 'block', background: '#fff' }}>
        <text x={23} y={23} fontSize={13.5} fontWeight="bold" fontFamily={FONT}>data from [423/mic0]</text>
        <text x={23} y={39} fontSize={13.5} fontWeight="bold" fontFamily={FONT}>starting point is [20240119_000055]</text>

        <Panel y0={84} y1={588} title="average and peak noise level (1 min sampling)" longLabels={false}>
          <path d={plusPath(peakZ, 0)} stroke={topColors[0]} strokeWidth={1} fill="none" opacity={0.85} />
          <path d={plusPath(peakC, 1.25)} stroke={topColors[1]} strokeWidth={1} fill="none" opacity={0.85} />
          <path d={plusPath(peakA, 0.6)} stroke={topColors[2]} strokeWidth={1} fill="none" opacity={0.85} />
          <path d={lineT(avgZ)} stroke={topColors[3]} strokeWidth={1.3} fill="none" />
          <path d={lineT(avgC)} stroke={topColors[4]} strokeWidth={1.3} fill="none" />
          <path d={lineT(avgA)} stroke={topColors[5]} strokeWidth={1.3} fill="none" />
          <g>
            <rect x={2156} y={543} width={182} height={40} rx={3} fill="#FFF8DC" fillOpacity={0.85} stroke="#d8c090" strokeWidth={1} />
            {topLegend.map((label, k) => {
              const col = Math.floor(k / 3);
              const cy = 550 + (k % 3) * 12;
              return (
                <g key={label}>
                  {col === 0 ? (
                    <circle cx={2169} cy={cy} r={2.3} fill={topColors[k]} />
                  ) : (
                    <line x1={2258} x2={2280} y1={cy} y2={cy} stroke={topColors[k]} strokeWidth={3.5} />
                  )}
                  <text x={col === 0 ? 2187 : 2286} y={cy + 3} fontSize={9} fontFamily={FONT}>{label}</text>
                </g>
              );
            })}
          </g>
        </Panel>

        <Panel y0={645} y1={1149} title="average noise level (5 min with 15s min/max dB envelope)" longLabels={true}>
          <path d={envArea} fill="#F08080" fillOpacity={0.3} stroke="none" />
          <path d={texturePath} fill="#F08080" fillOpacity={0.3} stroke="none" />
          <path d={spikePath} fill="#F08080" fillOpacity={0.35} stroke="#F08080" strokeOpacity={0.3} strokeWidth={0.6} />
          <path d={lineB(dbZ)} stroke={botColors[0]} strokeWidth={1.6} fill="none" />
          <path d={lineB(dbC)} stroke={botColors[1]} strokeWidth={1.6} fill="none" />
          <path d={lineB(dbA)} stroke={botColors[2]} strokeWidth={1.6} fill="none" />
          <g>
            <rect x={2277} y={1103} width={61} height={41} rx={3} fill="#FFF8DC" fillOpacity={0.85} stroke="#d8c090" strokeWidth={1} />
            {botLegend.map((label, k) => {
              const cy = 1111 + k * 12;
              return (
                <g key={label}>
                  <line x1={2280} x2={2302} y1={cy} y2={cy} stroke={botColors[k]} strokeWidth={3.5} />
                  <text x={2308} y={cy + 3} fontSize={9} fontFamily={FONT}>{label}</text>
                </g>
              );
            })}
          </g>
        </Panel>
      </svg>
    </div>
  );
}
